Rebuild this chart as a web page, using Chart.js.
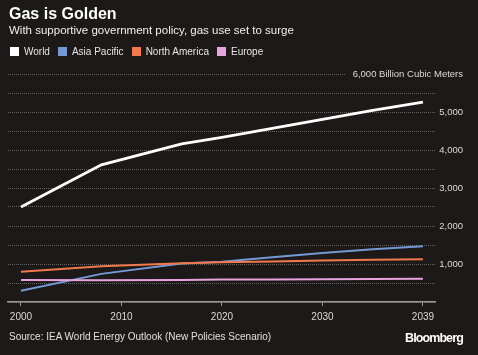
<!DOCTYPE html>
<html>
<head>
<meta charset="utf-8">
<script src="https://cdn.jsdelivr.net/npm/chart.js@4"></script>
<style>
  html, body { margin:0; padding:0; background:#1c1918; }
  #wrap { position:relative; width:478px; height:355px; background:#1c1918; overflow:hidden; font-family:"Liberation Sans", Arial, sans-serif; }
  canvas { position:absolute; left:0; top:0; }
  .t { position:absolute; white-space:nowrap; }
  #title { left:9px; top:5px; font-size:16px; font-weight:bold; color:#fff; }
  #sub { left:9px; top:24px; font-size:11.5px; color:#f0f0f0; }
  #legend { left:10px; top:46px; font-size:10px; color:#e6e6e6; display:flex; }
  #legend span.i { display:flex; align-items:center; margin-right:8px; }
  #legend span.b { width:9px; height:9px; display:inline-block; margin-right:5px; }
  #src { left:9px; top:331px; font-size:10px; color:#e0e0e0; }
  #bb { left:405px; top:331px; font-size:12.5px; font-weight:bold; color:#fff; letter-spacing:-0.9px; }
</style>
</head>
<body>
<div id="wrap">
  <canvas id="c" width="478" height="355"></canvas>
  <div class="t" id="title">Gas is Golden</div>
  <div class="t" id="sub">With supportive government policy, gas use set to surge</div>
  <div class="t" id="legend"></div>
  <div class="t" id="src">Source: IEA World Energy Outlook (New Policies Scenario)</div>
  <div class="t" id="bb">Bloomberg</div>
</div>
<script>
// ---- data ----
const years = [2000, 2008, 2016, 2020, 2025, 2030, 2035, 2040];
const world = [2500, 3610, 4160, 4330, 4570, 4805, 5040, 5260];
const asiaPacific = [295, 740, 1010, 1060, 1180, 1290, 1390, 1465];
const northAmerica = [795, 940, 1020, 1045, 1065, 1090, 1110, 1125];
const europe = [580, 575, 580, 590, 595, 600, 607, 612];
const seriesNames = ['World', 'Asia Pacific', 'North America', 'Europe'];
const seriesColors = ['#ffffff', '#7499d4', '#f2794a', '#e7a3de'];
const xTickValues = [2000, 2010, 2020, 2030, 2040];
const xTickLabels = ['2000', '2010', '2020', '2030', '2039'];
const yUnitLabel = '6,000 Billion Cubic Meters';
const BG = '#1c1918';

// legend
const leg = document.getElementById('legend');
seriesNames.forEach((n, i) => {
  const s = document.createElement('span'); s.className = 'i';
  const b = document.createElement('span'); b.className = 'b'; b.style.background = seriesColors[i];
  s.appendChild(b); s.appendChild(document.createTextNode(n)); leg.appendChild(s);
});

const toPts = arr => arr.map((v, i) => ({x: years[i], y: v}));
const allSeries = [world, asiaPacific, northAmerica, europe];

const datasets = allSeries.map((arr, i) => ({
  label: seriesNames[i],
  data: toPts(arr),
  borderColor: seriesColors[i],
  borderWidth: i === 0 ? 2.8 : 2,
  pointRadius: 0,
  tension: 0,
  order: 4 - i
}));

// draws the top unit label over the top gridline
const unitLabel = {
  id: 'unitLabel',
  afterDraw(chart) {
    const y = chart.scales.y;
    const ctx = chart.ctx;
    const py = y.getPixelForValue(6000);
    ctx.save();
    ctx.font = '9.5px "Liberation Sans", Arial, sans-serif';
    const w = ctx.measureText(yUnitLabel).width;
    const right = y.right;
    ctx.fillStyle = BG;
    ctx.fillRect(right - w - 7, py - 4, chart.chartArea.right - (right - w - 7) + 2, 8);
    ctx.fillStyle = '#dcdcdc';
    ctx.textAlign = 'right';
    ctx.textBaseline = 'middle';
    ctx.fillText(yUnitLabel, right, py);
    ctx.restore();
  }
};

new Chart(document.getElementById('c'), {
  type: 'line',
  data: { datasets },
  plugins: [unitLabel],
  options: {
    responsive: false,
    animation: false,
    layout: { padding: { left: 8, right: 15, top: 74, bottom: 33 } },
    plugins: { legend: { display: false }, tooltip: { enabled: false } },
    scales: {
      x: {
        type: 'linear',
        min: 1998.71, max: 2041.2,
        afterBuildTicks: s => { s.ticks = xTickValues.map(v => ({value: v})); },
        afterFit: s => { s.height = 20; },
        ticks: {
          color: '#dcdcdc', font: { family: 'Liberation Sans', size: 10 }, padding: 5,
          maxRotation: 0,
          callback: (v) => { const k = xTickValues.indexOf(v); return k >= 0 ? xTickLabels[k] : ''; }
        },
        grid: { drawOnChartArea: false, drawTicks: true, tickLength: 4, color: '#9a9a9a', lineWidth: 1 },
        border: { display: true, color: '#9a9a9a', width: 1.5 }
      },
      y: {
        position: 'right',
        min: 0, max: 6000,
        afterFit: s => { s.width = 28; },
        ticks: {
          stepSize: 500,
          crossAlign: 'far',
          padding: 3,
          color: '#dcdcdc', font: { family: 'Liberation Sans', size: 9.5 },
          callback: (v) => {
            if (v === 0 || v === 6000 || v % 1000 !== 0) return '';
            return v.toLocaleString('en-US');
          }
        },
        grid: { drawTicks: false, color: 'rgba(150,150,150,0.6)', lineWidth: 1 },
        border: { display: false, dash: [1, 1] }
      }
    }
  }
});
</script>
</body>
</html>
